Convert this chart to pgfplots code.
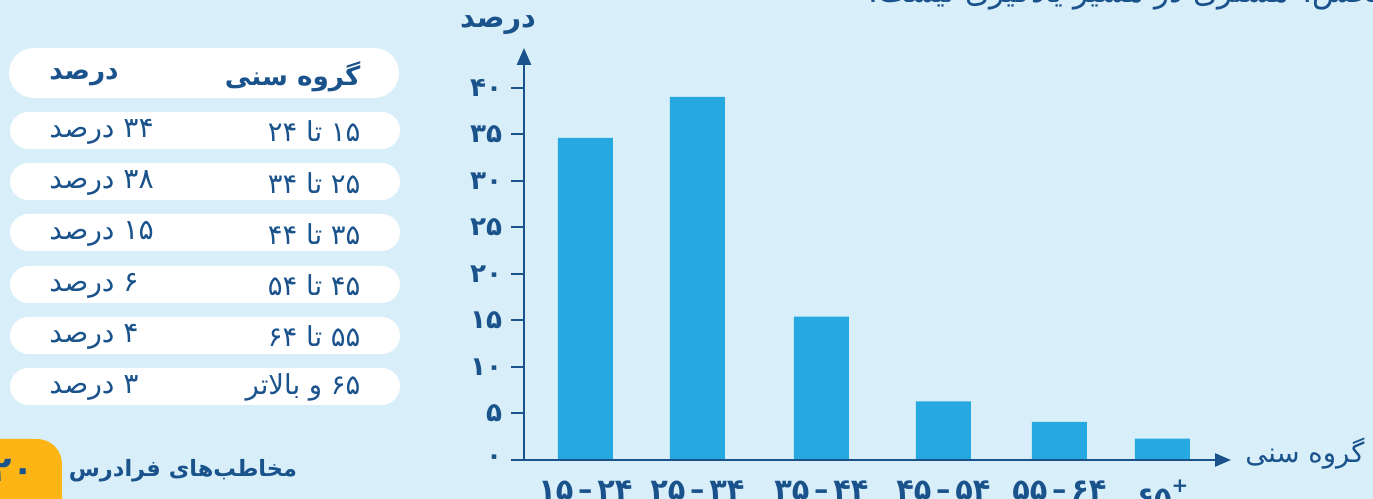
\documentclass[border=0pt]{standalone}
\usepackage{fontspec}
\usepackage{pgfplots}
\pgfplotsset{compat=1.18}
\usetikzlibrary{arrows.meta}
\TeXXeTstate=1
\setmainfont{DejaVu Sans}
\newfontfamily\fa[Script=Arabic]{DejaVu Sans}
\definecolor{bg}{RGB}{216,239,249}
\definecolor{barblue}{RGB}{38,169,224}
\definecolor{navy}{RGB}{26,82,140}
\definecolor{amber}{RGB}{253,181,21}
\newcommand\R[1]{{\fa\beginR #1\endR}}

\begin{document}
\begin{tikzpicture}
% pixel grid of the reference: 1px = 0.4pt, y down
\begin{scope}[x=0.4pt,y=-0.4pt]
\fill[bg] (0,0) rectangle (1373,499);

% title line, cut by the top edge
\node[anchor=base west, text=navy, inner sep=0pt, font=\fontsize{12.5}{14}\selectfont]
  at (868,3) {\R{بخش: مشتری در مسیر یادگیری نیست.}};

% table
\fill[white, rounded corners=10pt] (9,48) rectangle (399,98);
\foreach \t in {112,163,214,266,317,368}
  \fill[white, rounded corners=7.4pt] (10,\t) rectangle (400,\t+37);
\node[anchor=east, text=navy, inner sep=0pt, font=\bfseries\fontsize{10.5}{13}\selectfont] at (361,77) {\R{گروه سنی}};
\node[anchor=west, text=navy, inner sep=0pt, font=\bfseries\fontsize{10.5}{13}\selectfont] at (49,77) {\R{درصد}};
\foreach \yy/\age/\pc in {131.5/{۱۵ تا ۲۴}/{۳۴ درصد},
                          183/{۲۵ تا ۳۴}/{۳۸ درصد},
                          234/{۳۵ تا ۴۴}/{۱۵ درصد},
                          285.5/{۴۵ تا ۵۴}/{۶ درصد},
                          336.5/{۵۵ تا ۶۴}/{۴ درصد},
                          387.5/{۶۵ و بالاتر}/{۳ درصد}} {
  \node[anchor=east, text=navy, inner sep=0pt, font=\fontsize{11}{13}\selectfont] at (361,\yy) {\R{\age}};
  \node[anchor=west, text=navy, inner sep=0pt, font=\fontsize{11.3}{13}\selectfont] at (49,\yy) {\R{\pc}};
}

% footer badge
\fill[amber, rounded corners=10pt] (-60,439) rectangle (62,540);
\node[anchor=east, text=navy, inner sep=0pt, font=\bfseries\fontsize{14}{16}\selectfont] at (34,470) {\R{۲۰}};
\node[text=navy, inner sep=0pt, font=\bfseries\fontsize{9}{11}\selectfont] at (183,471) {\R{مخاطب‌های فرادرس}};

% axis titles
\node[text=navy, inner sep=0pt, font=\bfseries\fontsize{11.5}{14}\selectfont] at (498,25) {\R{درصد}};
\node[anchor=west, text=navy, inner sep=0pt, font=\fontsize{11}{13}\selectfont] at (1245,454) {\R{گروه سنی}};
\end{scope}

\begin{axis}[
  at={(524*0.4pt,-460*0.4pt)}, anchor=south west,
  scale only axis, width=282.8pt, height=164.8pt,
  xmin=-0.53, xmax=5.565, ymin=0, ymax=44.25,
  axis lines=left, axis on top,
  axis line style={navy, line width=1pt},
  x axis line style={-{Triangle[length=6.4pt,width=5.2pt]}},
  y axis line style={-{Triangle[length=6.8pt,width=5.6pt]}},
  tick align=outside, major tick length=5.2pt,
  ytick={0,5,...,40},
  yticklabels={۰,۵,۱۰,۱۵,۲۰,۲۵,۳۰,۳۵,۴۰},
  ytick style={navy, line width=0.8pt},
  xtick={0,0.9655,2.0345,3.086,4.086,4.974},
  xticklabels={\R{\beginL۱۵\,–\,۲۴\endL},\R{\beginL۲۵\,–\,۳۴\endL},\R{\beginL۳۵\,–\,۴۴\endL},
               \R{\beginL۴۵\,–\,۵۴\endL},\R{\beginL۵۵\,–\,۶۴\endL},
               \R{\beginL۶۵\raisebox{0.9ex}{\fontsize{8}{8}\selectfont +}\endL}},
  xtick style={draw=none},
  tick label style={text=navy},
  yticklabel style={font=\fa\bfseries\fontsize{10.5}{12}\selectfont},
  xticklabel style={font=\fa\bfseries\fontsize{11.5}{13}\selectfont, anchor=north, yshift=0.6pt},
]
\addplot[ybar, bar width=22pt, bar shift=0pt, fill=barblue, draw=none]
  coordinates {(0,34.6) (0.9655,39.0) (2.0345,15.4) (3.086,6.3) (4.086,4.1) (4.974,2.3)};
\end{axis}
\pgfresetboundingbox
\useasboundingbox (0,0) rectangle (549.2pt,-199.6pt);
\end{tikzpicture}
\end{document}
